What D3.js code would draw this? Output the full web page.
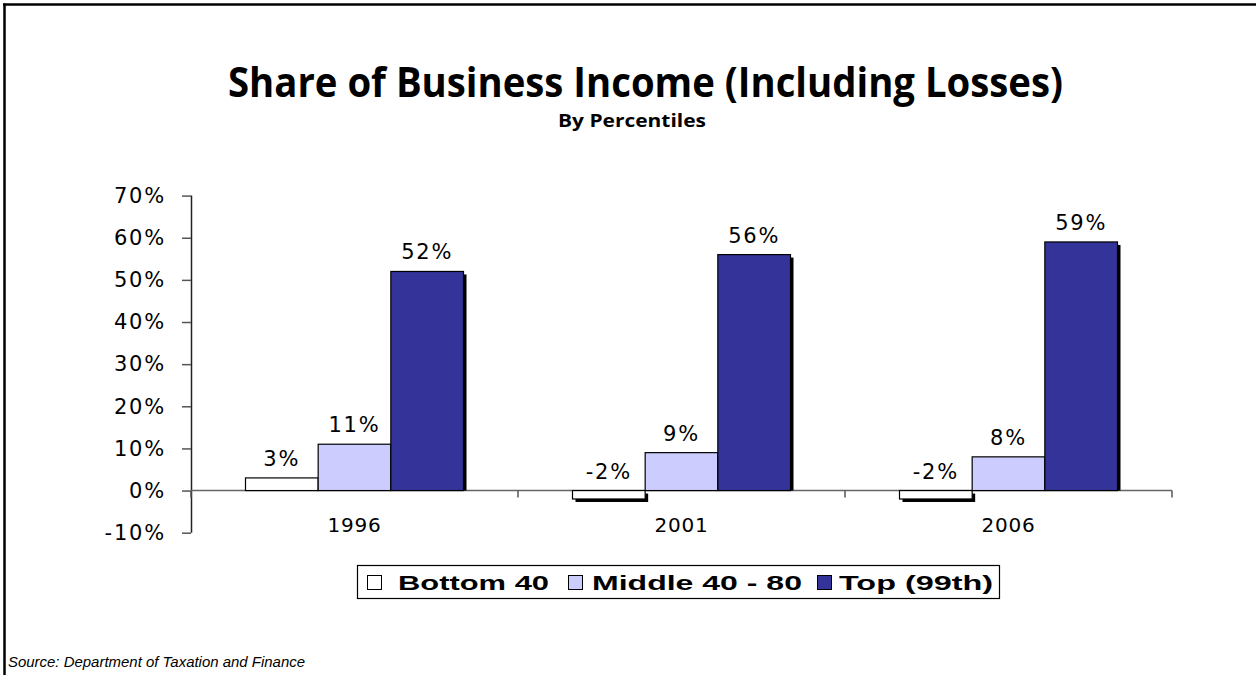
<!DOCTYPE html>
<html>
<head>
<meta charset="utf-8">
<script src="https://cdn.jsdelivr.net/npm/d3@7"></script>
<style>
  html, body { margin: 0; padding: 0; background: #fff; }
  svg { display: block; }
</style>
</head>
<body>
<svg id="chart" width="1256" height="675"></svg>
<script>
// Chart data
const years = ["1996", "2001", "2006"];
const seriesNames = ["Bottom 40", "Middle 40 - 80", "Top (99th)"];
const bottom40 = [0.03, -0.02, -0.02];
const middle40to80 = [0.11, 0.09, 0.08];
const top99th = [0.52, 0.56, 0.59];
const yTicks = [-0.10, 0, 0.10, 0.20, 0.30, 0.40, 0.50, 0.60, 0.70];
const seriesValues = [bottom40, middle40to80, top99th];
const seriesColors = ["#FFFFFF", "#CCCCFF", "#333399"];

const svg = d3.select("#chart");
const W = 1256, H = 675;

// Outer frame (top and left edges)
svg.append("line").attr("x1", 3).attr("x2", W).attr("y1", 4.5).attr("y2", 4.5)
  .attr("stroke", "#000").attr("stroke-width", 2.5);
svg.append("line").attr("x1", 4.5).attr("x2", 4.5).attr("y1", 3.5).attr("y2", H)
  .attr("stroke", "#000").attr("stroke-width", 2.5);

// Titles
svg.append("text")
  .attr("x", 645.5).attr("y", 97)
  .attr("text-anchor", "middle")
  .attr("font-family", "'Open Sans', sans-serif")
  .attr("font-weight", 700)
  .attr("font-size", 42)
  .attr("textLength", 835)
  .attr("lengthAdjust", "spacingAndGlyphs")
  .text("Share of Business Income (Including Losses)");

svg.append("text")
  .attr("x", 632).attr("y", 127)
  .attr("text-anchor", "middle")
  .attr("font-family", "'Open Sans', sans-serif")
  .attr("font-weight", 700)
  .attr("font-size", 17)
  .attr("textLength", 148)
  .attr("lengthAdjust", "spacingAndGlyphs")
  .text("By Percentiles");

// Scales
const plotLeft = 191, plotRight = 1172;
const y = d3.scaleLinear().domain([-0.10, 0.70]).range([532.7, 195.6]);
const x0 = d3.scaleBand().domain(years).range([plotLeft, plotRight]).paddingInner(0).paddingOuter(0);
const x1 = d3.scaleBand().domain(d3.range(seriesNames.length)).range([0, x0.bandwidth()])
  .paddingInner(0).paddingOuter(0.75);

// Y axis
const yAxis = d3.axisLeft(y)
  .tickValues(yTicks)
  .tickSize(9)
  .tickPadding(16)
  .tickFormat(d => Math.round(d * 100) + "%");

const gy = svg.append("g").attr("transform", `translate(${plotLeft},0)`).call(yAxis);
gy.select(".domain").attr("stroke", "#222").attr("stroke-width", 1.5)
  .attr("d", `M0.5,${y(0.70)}V${y(-0.10)}`);
gy.selectAll(".tick line").attr("stroke", "#555").attr("stroke-width", 1.5);
gy.selectAll(".tick text")
  .attr("font-family", "'DejaVu Sans', sans-serif")
  .attr("font-size", 21)
  .attr("letter-spacing", 1.8)
  .attr("fill", "#000");

// Zero baseline with category separator ticks
const zeroY = y(0);
svg.append("line")
  .attr("x1", plotLeft).attr("x2", plotRight)
  .attr("y1", zeroY).attr("y2", zeroY)
  .attr("stroke", "#666").attr("stroke-width", 1.5);
const sepX = years.map(d => x0(d)).concat([plotRight]);
svg.selectAll(".sep").data(sepX).join("line")
  .attr("class", "sep")
  .attr("x1", d => d).attr("x2", d => d)
  .attr("y1", zeroY).attr("y2", zeroY + 7)
  .attr("stroke", "#555").attr("stroke-width", 1.5);

// Category labels
svg.selectAll(".cat").data(years).join("text")
  .attr("class", "cat")
  .attr("x", d => x0(d) + x0.bandwidth() / 2)
  .attr("y", 532)
  .attr("text-anchor", "middle")
  .attr("font-family", "'DejaVu Sans', sans-serif")
  .attr("font-size", 20)
  .attr("letter-spacing", 0.8)
  .text(d => d);

// Bars
const barData = [];
years.forEach((yr, i) => {
  seriesValues.forEach((vals, s) => {
    barData.push({ year: yr, s, v: vals[i] });
  });
});

const off = 3;
const gBars = svg.append("g");
barData.forEach(d => {
  const bx = x0(d.year) + x1(d.s);
  const top = Math.min(y(d.v), zeroY);
  const h = Math.abs(y(d.v) - zeroY);
  // drop shadow
  gBars.append("rect")
    .attr("x", bx + off)
    .attr("y", top + off)
    .attr("width", x1.bandwidth())
    .attr("height", Math.max(0, h - (d.v >= 0 ? off : 0)))
    .attr("fill", "#000");
  // bar
  gBars.append("rect")
    .attr("x", bx)
    .attr("y", top)
    .attr("width", x1.bandwidth())
    .attr("height", h)
    .attr("fill", seriesColors[d.s])
    .attr("stroke", "#000")
    .attr("stroke-width", 1.2);
});

// Value labels
svg.selectAll(".val").data(barData).join("text")
  .attr("class", "val")
  .attr("x", d => x0(d.year) + x1(d.s) + x1.bandwidth() / 2)
  .attr("y", d => y(Math.max(d.v, 0)) - 12)
  .attr("text-anchor", "middle")
  .attr("font-family", "'DejaVu Sans', sans-serif")
  .attr("font-size", 21)
  .attr("letter-spacing", 1.8)
  .text(d => Math.round(d.v * 100) + "%");

// Legend
const legend = svg.append("g");
legend.append("rect")
  .attr("x", 357.5).attr("y", 565.5).attr("width", 642).attr("height", 33)
  .attr("fill", "#fff").attr("stroke", "#000").attr("stroke-width", 1.2);
const legendItems = [
  { sx: 367, tx: 398, tw: 151 },
  { sx: 568, tx: 592, tw: 210 },
  { sx: 817, tx: 839, tw: 154 }
];
legend.selectAll(".sw").data(seriesNames).join("rect")
  .attr("class", "sw")
  .attr("x", (d, i) => legendItems[i].sx + 0.5)
  .attr("y", 575.5)
  .attr("width", 14).attr("height", 14)
  .attr("fill", (d, i) => seriesColors[i])
  .attr("stroke", "#000").attr("stroke-width", 1);
legend.selectAll(".lt").data(seriesNames).join("text")
  .attr("class", "lt")
  .attr("x", (d, i) => legendItems[i].tx)
  .attr("y", 590)
  .attr("font-family", "'Liberation Sans', Arial, sans-serif")
  .attr("font-weight", 700)
  .attr("font-size", 21)
  .attr("textLength", (d, i) => legendItems[i].tw)
  .attr("lengthAdjust", "spacingAndGlyphs")
  .text(d => d);

// Source note
svg.append("text")
  .attr("x", 8).attr("y", 667)
  .attr("font-family", "'Liberation Sans', Arial, sans-serif")
  .attr("font-style", "italic")
  .attr("font-size", 14)
  .attr("textLength", 297)
  .attr("lengthAdjust", "spacingAndGlyphs")
  .text("Source: Department of Taxation and Finance");
</script>
</body>
</html>
